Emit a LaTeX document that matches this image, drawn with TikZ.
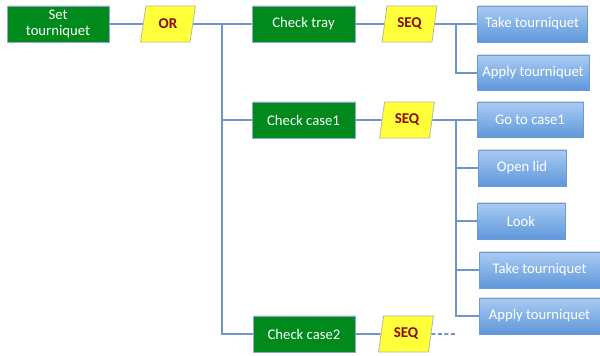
\documentclass[tikz,border=0pt]{standalone}
\usepackage{fontspec}
\setmainfont{Carlito}
\usetikzlibrary{shapes.geometric,shadows}
\definecolor{grn}{HTML}{008A1C}
\definecolor{grnb}{HTML}{8FA8C8}
\definecolor{yel}{HTML}{FFFF3A}
\definecolor{yelb}{HTML}{B8B8A0}
\definecolor{red}{HTML}{8B0A0A}
\definecolor{btop}{HTML}{A9CBF3}
\definecolor{bbot}{HTML}{5E97DA}
\definecolor{bbord}{HTML}{6E9AD0}
\definecolor{conn}{HTML}{7096C8}
\tikzset{
  gbox/.style={rectangle, fill=grn, draw=grnb, line width=0.8pt, text=white,
    font=\fontsize{14.7}{16.5}\selectfont, align=center, inner sep=0pt,
    drop shadow={opacity=0.25, shadow xshift=1.2pt, shadow yshift=1.2pt}},
  bbox/.style={rectangle, top color=btop, bottom color=bbot, draw=bbord, line width=0.8pt,
    text=white, font=\fontsize{14.7}{16.5}\selectfont, inner sep=0pt,
    drop shadow={opacity=0.25, shadow xshift=1.2pt, shadow yshift=1.2pt}},
  gate/.style={trapezium, trapezium left angle=77, trapezium right angle=103,
    trapezium stretches=true, fill=yel, draw=yelb, line width=0.8pt, text=red,
    font=\fontsize{15}{16}\selectfont\bfseries, minimum width=55pt, minimum height=36pt, inner sep=0pt},
  link/.style={draw=conn, line width=1.8pt},
}
\begin{document}
\begin{tikzpicture}[x=1pt,y=-1pt]
\useasboundingbox (0,0) rectangle (600,356);
% top level
\node[gbox, minimum width=102pt, minimum height=36pt] (set) at (58,24) {Set\\tourniquet};
\node[gate] (or) at (168,24) {OR};
\node[gbox, minimum width=103pt, minimum height=36pt] (tray) at (303.5,24) {Check tray};
\node[gbox, minimum width=103pt, minimum height=36pt] (c1) at (303.5,120) {Check case1};
\node[gbox, minimum width=102pt, minimum height=36pt] (c2) at (304,334) {Check case2};
\node[gate] (s1) at (409.5,24) {SEQ};
\node[gate] (s2) at (407,120) {SEQ};
\node[gate] (s3) at (406,334) {SEQ};
% leaves
\node[bbox, minimum width=110pt, minimum height=36pt] (t1) at (532,24) {Take tourniquet};
\node[bbox, minimum width=112pt, minimum height=35pt] (a1) at (533,73) {Apply tourniquet};
\node[bbox, minimum width=106pt, minimum height=35pt] (g2) at (530,120) {Go to case1};
\node[bbox, minimum width=88pt, minimum height=36pt] (o2) at (522,168) {Open lid};
\node[bbox, minimum width=88pt, minimum height=36pt] (l2) at (521,221) {Look};
\node[bbox, minimum width=121pt, minimum height=36pt] (t2) at (539.5,270) {Take tourniquet};
\node[bbox, minimum width=121pt, minimum height=36pt] (a2) at (539.5,316) {Apply tourniquet};
\coordinate (j0) at (222,24);
\coordinate (j1) at (456,24);
\coordinate (j2) at (456,120);
\coordinate (dend) at (457,334);
% connectors
\draw[link] (set.east) -- (or.west);
\draw[link] (or.east) -- (tray.west);
\draw[link] (j0) |- (c1.west);
\draw[link] (j0) |- (c2.west);
\draw[link] (tray.east) -- (s1.west);
\draw[link] (c1.east) -- (s2.west);
\draw[link] (c2.east) -- (s3.west);
\draw[link] (s1.east) -- (t1.west);
\draw[link] (j1) |- (a1.west);
\draw[link] (s2.east) -- (g2.west);
\draw[link] (j2) |- (o2.west);
\draw[link] (j2) |- (l2.west);
\draw[link] (j2) |- (t2.west);
\draw[link] (j2) |- (a2.west);
\draw[link, dash pattern=on 4pt off 2.5pt] (s3.east) -- (dend);
\end{tikzpicture}
\end{document}
